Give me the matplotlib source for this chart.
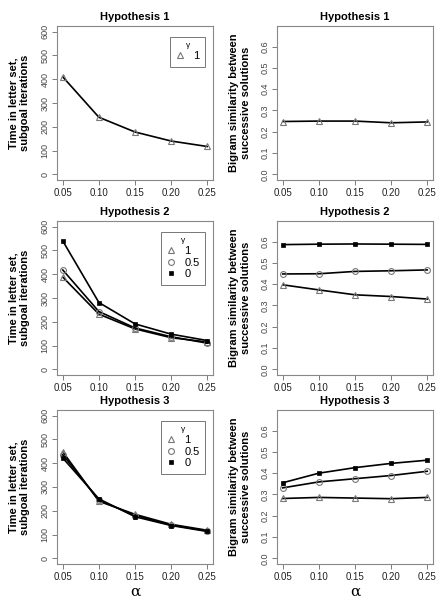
import matplotlib
matplotlib.use("Agg")
import matplotlib.pyplot as plt

plt.rcParams['font.family'] = ['Liberation Sans', 'DejaVu Sans']

# x values (alpha) and labels
alpha = [0.05, 0.10, 0.15, 0.20, 0.25]
alpha_labels = ["0.05", "0.10", "0.15", "0.20", "0.25"]
gamma_labels = ["1", "0.5", "0"]
titles = ["Hypothesis 1", "Hypothesis 2", "Hypothesis 3"]

# time in letter set (subgoal iterations)
h1_time_g1 = [410, 240, 178, 140, 117]
h2_time_g1 = [388, 232, 170, 133, 115]
h2_time_g05 = [418, 243, 174, 137, 110]
h2_time_g0 = [540, 281, 191, 148, 121]
h3_time_g1 = [448, 240, 185, 143, 118]
h3_time_g05 = [436, 245, 180, 140, 115]
h3_time_g0 = [422, 250, 175, 138, 113]

# bigram similarity between successive solutions
h1_sim_g1 = [0.248, 0.250, 0.250, 0.242, 0.246]
h2_sim_g1 = [0.397, 0.373, 0.350, 0.342, 0.330]
h2_sim_g05 = [0.448, 0.449, 0.460, 0.463, 0.467]
h2_sim_g0 = [0.586, 0.588, 0.589, 0.588, 0.587]
h3_sim_g1 = [0.281, 0.286, 0.283, 0.280, 0.286]
h3_sim_g05 = [0.331, 0.359, 0.374, 0.389, 0.409]
h3_sim_g0 = [0.355, 0.400, 0.426, 0.446, 0.461]

time_rows = [[h1_time_g1], [h2_time_g1, h2_time_g05, h2_time_g0],
             [h3_time_g1, h3_time_g05, h3_time_g0]]
sim_rows = [[h1_sim_g1], [h2_sim_g1, h2_sim_g05, h2_sim_g0],
            [h3_sim_g1, h3_sim_g05, h3_sim_g0]]

# marker style per gamma (1, 0.5, 0)
styles = [dict(marker='^', ms=4.8, mfc='none', mec='#777777', mew=0.8),
          dict(marker='o', ms=4.2, mfc='none', mec='#777777', mew=0.8),
          dict(marker='s', ms=3.2, mfc='black', mec='black', mew=0.5)]

W, H = 445, 600
fig = plt.figure(figsize=(W / 100, H / 100), dpi=100)

col_left = [57, 277]
row_top = [26, 221, 410]
bw, bh = 156, 154


def make_ax(col, row):
    l = col_left[col] / W
    b = 1 - (row_top[row] + bh) / H
    return fig.add_axes([l, b, bw / W, bh / H])


def style_ax(ax):
    for s in ax.spines.values():
        s.set_color('#888888')
        s.set_linewidth(0.8)
    ax.set_xlim(0.042, 0.258)
    ax.set_xticks(alpha)
    ax.set_xticklabels(alpha_labels, fontsize=7, color='#222222')
    ax.tick_params(axis='x', length=3.5, width=0.6, color='#666666', pad=2.5)
    ax.tick_params(axis='y', length=3.5, width=0.6, color='#666666', pad=2,
                   labelsize=6.5, labelcolor='#444444')
    for lab in ax.get_yticklabels():
        lab.set_rotation(90)
        lab.set_va('center')


for r in range(3):
    # left: time
    ax = make_ax(0, r)
    for i, ys in enumerate(time_rows[r]):
        ax.plot(alpha, ys, color='black', lw=1.2, **styles[i])
    ax.set_ylim(-24, 624)
    ax.set_yticks([0, 100, 200, 300, 400, 500, 600])
    style_ax(ax)
    ax.set_title(titles[r], fontsize=8, fontweight='bold', pad=4.5)
    n = len(time_rows[r])
    handles = [plt.Line2D([], [], ls='none', **styles[i]) for i in range(n)]
    leg = ax.legend(handles, gamma_labels[:n], title='γ',
                    loc='upper right', bbox_to_anchor=(0.95, 0.93),
                    fontsize=8, title_fontsize=6, fancybox=False, framealpha=1,
                    edgecolor='#777777', handlelength=0.8, handletextpad=0.8,
                    borderpad=0.5, labelspacing=0.15, borderaxespad=0)
    leg.get_frame().set_linewidth(0.7)

    # right: similarity
    ax = make_ax(1, r)
    for i, ys in enumerate(sim_rows[r]):
        ax.plot(alpha, ys, color='black', lw=1.2, **styles[i])
    ax.set_ylim(-0.027, 0.697)
    ax.set_yticks([0.0, 0.1, 0.2, 0.3, 0.4, 0.5, 0.6])
    ax.set_yticklabels(["0.0", "0.1", "0.2", "0.3", "0.4", "0.5", "0.6"])
    style_ax(ax)
    ax.set_title(titles[r], fontsize=8, fontweight='bold', pad=4.5)

    # y labels
    yc = 1 - (row_top[r] + bh / 2) / H
    fig.text(19 / W, yc, "Time in letter set,\nsubgoal iterations", rotation=90,
             ha='center', va='center', fontsize=8, fontweight='bold',
             multialignment='center', linespacing=1.2)
    fig.text(240 / W, yc, "Bigram similarity between\nsuccessive solutions", rotation=90,
             ha='center', va='center', fontsize=8, fontweight='bold',
             multialignment='center', linespacing=1.2)

# alpha axis labels
for c in range(2):
    fig.text((col_left[c] + bw / 2) / W, 1 - 592 / H, "α", ha='center', va='center',
             fontsize=11, family=['DejaVu Serif'])

fig.savefig("out.png", dpi=100)
